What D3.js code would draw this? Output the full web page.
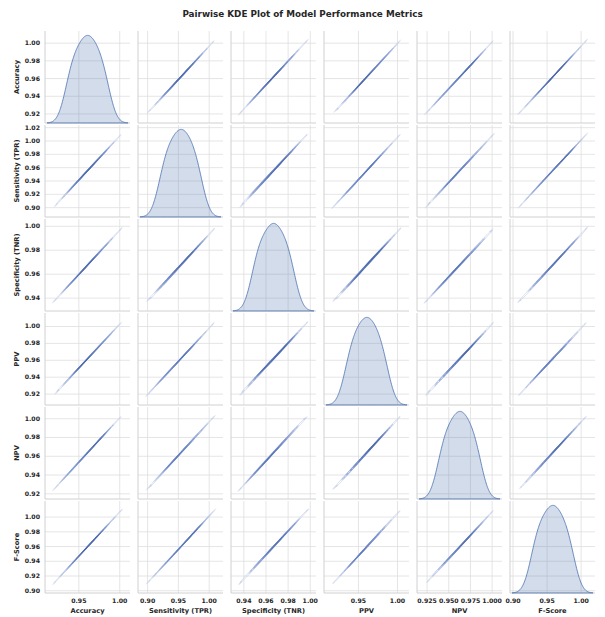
<!DOCTYPE html>
<html lang="en">
<head>
<meta charset="UTF-8">
<title>Pairwise KDE Plot</title>
<script src="https://cdn.jsdelivr.net/npm/d3@7"></script>
<style>
  body { margin: 0; background: #fff; }
  text { font-family: "DejaVu Sans", sans-serif; fill: #262626; font-weight: bold; }
  .grid line { stroke: #dedede; stroke-width: 0.8; }
  .grid .domain { display: none; }
</style>
</head>
<body>
<div id="chart"></div>
<script>
// metric names (grid order)
var metrics = ["Accuracy", "Sensitivity (TPR)", "Specificity (TNR)", "PPV", "NPV", "F-Score"];

// scores of the 20 models, one array per metric
var accuracy    = [0.9362, 0.9390, 0.9424, 0.9450, 0.9481, 0.9504, 0.9533, 0.9554, 0.9582, 0.9604,
                   0.9619, 0.9643, 0.9662, 0.9691, 0.9714, 0.9745, 0.9766, 0.9798, 0.9826, 0.9862];
var sensitivity = [0.9210, 0.9259, 0.9296, 0.9339, 0.9368, 0.9408, 0.9436, 0.9476, 0.9509, 0.9532,
                   0.9563, 0.9584, 0.9620, 0.9649, 0.9688, 0.9716, 0.9757, 0.9790, 0.9834, 0.9875];
var specificity = [0.9488, 0.9507, 0.9536, 0.9550, 0.9574, 0.9588, 0.9614, 0.9634, 0.9647, 0.9668,
                   0.9675, 0.9695, 0.9707, 0.9730, 0.9751, 0.9766, 0.9791, 0.9808, 0.9828, 0.9857];
var ppv         = [0.9346, 0.9387, 0.9414, 0.9447, 0.9477, 0.9498, 0.9530, 0.9551, 0.9583, 0.9601,
                   0.9623, 0.9639, 0.9671, 0.9690, 0.9723, 0.9746, 0.9771, 0.9808, 0.9834, 0.9873];
var npv         = [0.9395, 0.9420, 0.9456, 0.9479, 0.9502, 0.9534, 0.9553, 0.9583, 0.9599, 0.9624,
                   0.9643, 0.9658, 0.9679, 0.9709, 0.9729, 0.9757, 0.9776, 0.9810, 0.9837, 0.9864];
var fScore      = [0.9287, 0.9329, 0.9359, 0.9399, 0.9428, 0.9456, 0.9495, 0.9522, 0.9556, 0.9574,
                   0.9601, 0.9627, 0.9649, 0.9685, 0.9712, 0.9746, 0.9781, 0.9809, 0.9850, 0.9887];

// tick values per column (x) and per row (y)
var xTicks = [
  [0.95, 1.00],
  [0.90, 0.95, 1.00],
  [0.94, 0.96, 0.98, 1.00],
  [0.95, 1.00],
  [0.925, 0.950, 0.975, 1.000],
  [0.90, 0.95, 1.00]
];
var xTickFormat = [".2f", ".2f", ".2f", ".2f", ".3f", ".2f"];
var yTicks = [
  [0.92, 0.94, 0.96, 0.98, 1.00],
  [0.90, 0.92, 0.94, 0.96, 0.98, 1.00, 1.02],
  [0.94, 0.96, 0.98, 1.00],
  [0.92, 0.94, 0.96, 0.98, 1.00],
  [0.92, 0.94, 0.96, 0.98, 1.00],
  [0.90, 0.92, 0.94, 0.96, 0.98, 1.00]
];

var cols = [accuracy, sensitivity, specificity, ppv, npv, fScore];

var width = 605, height = 617;
var left = 45, top0 = 31;
var panelW = 85, panelH = 92, gapX = 8, gapY = 2;

var n = accuracy.length;
var f1 = Math.pow(n, -1 / 5);   // scott factor, 1d
var f2 = Math.pow(n, -1 / 6);   // scott factor, 2d
var cut = 3, G = 200, thresh = 0.02, nLevels = 10;

function cov(a, b) {
  var ma = d3.mean(a), mb = d3.mean(b);
  return d3.sum(a, function(v, i) { return (v - ma) * (b[i] - mb); }) / (a.length - 1);
}
function support(a, f) {
  var bw = f * Math.sqrt(cov(a, a));
  return [d3.min(a) - cut * bw, d3.max(a) + cut * bw];
}

function kde1d(a) {
  var bw = f1 * Math.sqrt(cov(a, a));
  var sup = support(a, f1);
  var c = 1 / (bw * Math.sqrt(2 * Math.PI) * a.length);
  return d3.range(G).map(function(i) {
    var x = sup[0] + i * (sup[1] - sup[0]) / (G - 1);
    var s = 0;
    a.forEach(function(v) { var z = (x - v) / bw; s += Math.exp(-0.5 * z * z); });
    return [x, s * c];
  });
}

function kde2d(xs, ys) {
  var sxx = cov(xs, xs) * f2 * f2, syy = cov(ys, ys) * f2 * f2, sxy = cov(xs, ys) * f2 * f2;
  var det = sxx * syy - sxy * sxy;
  var ixx = syy / det, iyy = sxx / det, ixy = -sxy / det;
  var c = 1 / (2 * Math.PI * Math.sqrt(det) * xs.length);
  var dx = support(xs, f2), dy = support(ys, f2);
  var stepX = (dx[1] - dx[0]) / (G - 1), stepY = (dy[1] - dy[0]) / (G - 1);
  var values = new Float64Array(G * G);
  for (var j = 0; j < G; j++) {
    var y = dy[0] + j * stepY;
    for (var i = 0; i < G; i++) {
      var x = dx[0] + i * stepX, s = 0;
      for (var k = 0; k < xs.length; k++) {
        var ex = x - xs[k], ey = y - ys[k];
        s += Math.exp(-0.5 * (ixx * ex * ex + 2 * ixy * ex * ey + iyy * ey * ey));
      }
      values[i + j * G] = s * c;
    }
  }
  return {values: values, x0: dx[0], y0: dy[0], stepX: stepX, stepY: stepY};
}

// iso-proportion levels (seaborn style)
function isoLevels(values) {
  var sorted = Array.from(values).sort(function(a, b) { return b - a; });
  var total = d3.sum(sorted), acc = 0;
  var cum = sorted.map(function(v) { acc += v; return acc / total; });
  return d3.range(nLevels).map(function(i) {
    var q = thresh + i * (1 - thresh) / (nLevels - 1);
    var idx = d3.bisectLeft(cum, 1 - q);
    return sorted[Math.min(idx, sorted.length - 1)];
  });
}

var lineColor = d3.scaleLinear()
  .domain([0, 0.45, 1])
  .range(["#c3cde6", "#829bd2", "#4a66a6"])
  .interpolate(d3.interpolateLab);

var svg = d3.select("#chart").append("svg")
  .attr("width", width)
  .attr("height", height);

svg.append("text")
  .attr("x", width / 2)
  .attr("y", 17)
  .attr("text-anchor", "middle")
  .style("font-size", "8.8px")
  .text("Pairwise KDE Plot of Model Performance Metrics");

var xScales = cols.map(function(v) {
  return d3.scaleLinear().domain(support(v, f2)).range([0, panelW]);
});
var yScales = cols.map(function(v) {
  return d3.scaleLinear().domain(support(v, f2)).range([panelH, 0]);
});

for (var r = 0; r < 6; r++) {
  for (var c = 0; c < 6; c++) {
    var sx = xScales[c], sy = yScales[r];
    var g = svg.append("g")
      .attr("transform", "translate(" + (left + c * (panelW + gapX)) + "," + (top0 + r * (panelH + gapY)) + ")");

    // grid
    g.append("g").attr("class", "grid")
      .call(d3.axisBottom(sx).tickValues(xTicks[c]).tickSize(panelH).tickFormat(""));
    g.append("g").attr("class", "grid")
      .call(d3.axisLeft(sy).tickValues(yTicks[r]).tickSize(-panelW).tickFormat(""));

    // spines (left, bottom)
    g.append("line").attr("x1", 0).attr("x2", 0).attr("y1", 0).attr("y2", panelH)
      .attr("stroke", "#d0d0d0").attr("stroke-width", 1);
    g.append("line").attr("x1", 0).attr("x2", panelW).attr("y1", panelH).attr("y2", panelH)
      .attr("stroke", "#d0d0d0").attr("stroke-width", 1);

    if (r === c) {
      var dens = kde1d(cols[c]);
      var dy = d3.scaleLinear()
        .domain([0, d3.max(dens, function(d) { return d[1]; }) * 1.05])
        .range([panelH, 0]);
      g.append("path")
        .datum(dens)
        .attr("fill", "#4c72b0")
        .attr("fill-opacity", 0.25)
        .attr("stroke", "#4c72b0")
        .attr("stroke-opacity", 0.8)
        .attr("stroke-width", 1)
        .attr("d", d3.area()
          .x(function(d) { return sx(d[0]); })
          .y0(panelH)
          .y1(function(d) { return dy(d[1]); }));
    } else {
      var k2 = kde2d(cols[c], cols[r]);
      var levels = isoLevels(k2.values);
      var lo = levels[0], hi = levels[levels.length - 1];
      var contours = d3.contours().size([G, G]).thresholds(levels.slice(0, -1))(k2.values);
      var proj = (function(k, sxx, syy) {
        return d3.geoTransform({
          point: function(px, py) {
            this.stream.point(sxx(k.x0 + (px - 0.5) * k.stepX), syy(k.y0 + (py - 0.5) * k.stepY));
          }
        });
      })(k2, sx, sy);
      g.append("g").selectAll("path")
        .data(contours)
        .join("path")
        .attr("fill", "none")
        .attr("stroke", function(d) { return lineColor((d.value - lo) / (hi - lo)); })
        .attr("stroke-width", 0.7)
        .attr("d", d3.geoPath(proj));
    }

    // tick labels
    if (c === 0) {
      g.append("g")
        .call(d3.axisLeft(sy).tickValues(yTicks[r]).tickSize(0).tickPadding(5).tickFormat(d3.format(".2f")))
        .call(function(a) { a.select(".domain").remove(); })
        .selectAll("text").style("font-size", "6.2px");
      g.append("text")
        .attr("transform", "translate(-26," + (panelH / 2) + ") rotate(-90)")
        .attr("text-anchor", "middle")
        .style("font-size", "6.7px")
        .text(metrics[r]);
    }
    if (r === 5) {
      g.append("g")
        .attr("transform", "translate(0," + panelH + ")")
        .call(d3.axisBottom(sx).tickValues(xTicks[c]).tickSize(0).tickPadding(6).tickFormat(d3.format(xTickFormat[c])))
        .call(function(a) { a.select(".domain").remove(); })
        .selectAll("text").style("font-size", "6.2px");
      g.append("text")
        .attr("x", panelW / 2)
        .attr("y", panelH + 19.5)
        .attr("text-anchor", "middle")
        .style("font-size", "6.7px")
        .text(metrics[c]);
    }
  }
}
</script>
</body>
</html>
